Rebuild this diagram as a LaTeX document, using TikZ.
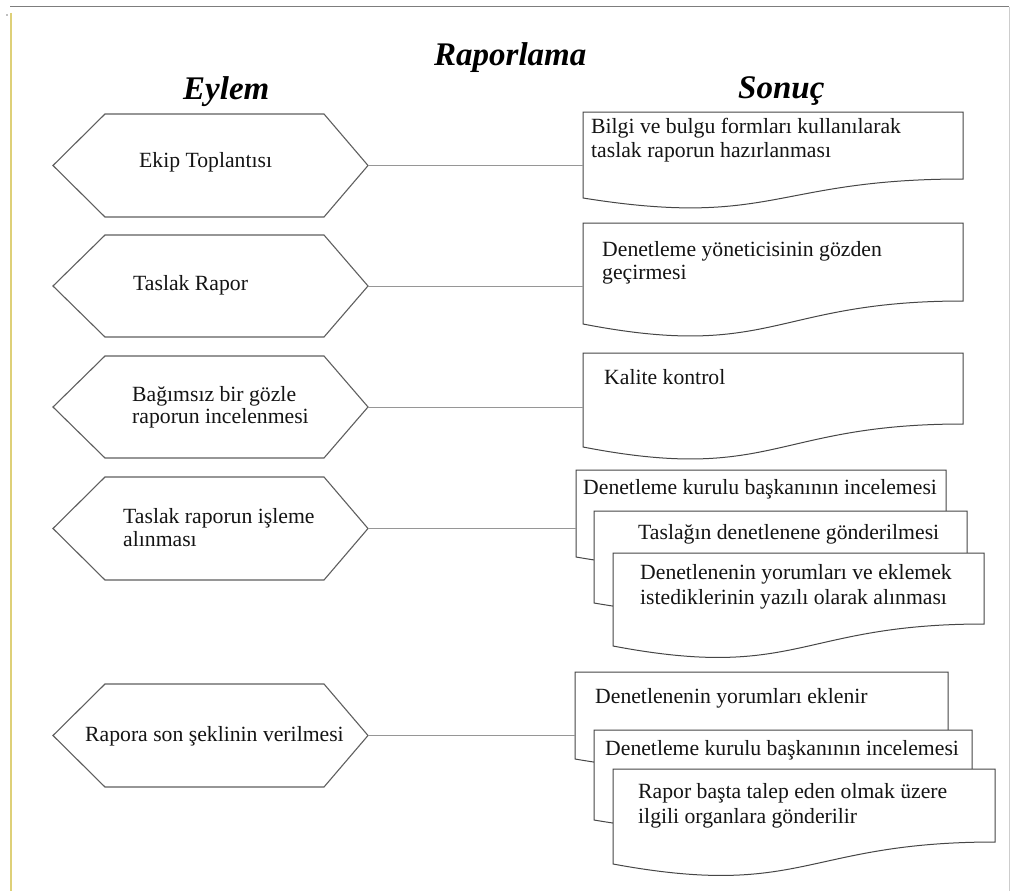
\documentclass[tikz,border=0pt]{standalone}
\usepackage{fontspec}
\setmainfont{Liberation Serif}
\definecolor{pagegold}{RGB}{222,208,120}
\definecolor{frametop}{RGB}{125,125,125}
\definecolor{frameright}{RGB}{205,205,205}
\definecolor{outline}{RGB}{70,70,70}
\definecolor{hexedge}{RGB}{95,95,95}
\definecolor{linkline}{RGB}{150,150,150}

% hexagonal action box: name, top, bottom (tips at x=53 and x=368)
\newcommand\actionhex[3]{%
  \draw[hexline] (53,{(#2+#3)/2}) -- (105,#2) -- (324,#2) -- (368,{(#2+#3)/2})
        -- (324,#3) -- (105,#3) -- cycle;
  \coordinate (#1) at (368,{(#2+#3)/2});
}
% document box with wavy bottom: name, left, top, right, right-bottom, left-bottom
\newcommand\resultdoc[6]{%
  \draw[docline] (#2,#3) -- (#4,#3) -- (#4,#5)
        .. controls ({(#2+#4)/2},#5) and ({(#2+#4)/2},{#6+1.6*(#6-#5)}) .. (#2,#6) -- cycle;
  \coordinate (#1) at (#2,#3);
}

\begin{document}
\begin{tikzpicture}[x=1pt,y=-1pt,
  hexline/.style={draw=hexedge, line width=1.1pt, fill=white},
  docline/.style={draw=outline, line width=1pt, fill=white},
  conn/.style={draw=linkline, line width=0.9pt},
  label/.style={anchor=base west, inner sep=0pt, text=black!92,
                font=\fontsize{21.7}{26}\selectfont},
  heading/.style={anchor=base west, inner sep=0pt,
                font=\fontsize{33}{38}\selectfont\bfseries\itshape},
]
\useasboundingbox (0,0) rectangle (1019,891);
\fill[white] (0,0) rectangle (1019,891);

% page frame
\draw[frametop, line width=1.5pt] (10,6.5) -- (1009,6.5);
\draw[pagegold, line width=1.2pt] (11,13) -- (11,891);
\draw[frameright, line width=1pt] (1009,7) -- (1009,891);
\fill[black!50] (7,15) circle (0.8);

% headings
\node[heading] (title) at (434,65) {Raporlama};
\node[heading] (hleft) at (183,99) {Eylem};
\node[heading] (hright) at (738,98) {Sonuç};

% actions
\actionhex{h1}{114}{217}
\actionhex{h2}{235}{337}
\actionhex{h3}{356}{458}
\actionhex{h4}{477}{580}
\actionhex{h5}{684}{787}

\node[label] (a1) at (139,167) {Ekip Toplantısı};
\node[label] (a2) at (133,290) {Taslak Rapor};
\node[label] (a3a) at (132,401) {Bağımsız bir gözle};
\node[label] (a3b) at (132,423) {raporun incelenmesi};
\node[label] (a4a) at (123,523) {Taslak raporun işleme};
\node[label] (a4b) at (123,546) {alınması};
\node[label] (a5) at (85,741) {Rapora son şeklinin verilmesi};

% results
\resultdoc{d1}{583}{112}{963}{179}{198}
\resultdoc{d2}{583}{223}{963}{301}{324}
\resultdoc{d3}{583}{353}{963}{424}{447}
\resultdoc{d4a}{576}{470}{946}{537}{557}
\resultdoc{d4b}{594}{511}{967}{583}{603}
\resultdoc{d4c}{613}{553}{984}{624}{646}
\resultdoc{d5a}{575}{672}{948}{739}{759}
\resultdoc{d5b}{594}{730}{972}{800}{820}
\resultdoc{d5c}{613}{769}{995}{842}{864}

% connectors
\draw[conn] (h1) -- (h1 -| d1);
\draw[conn] (h2) -- (h2 -| d2);
\draw[conn] (h3) -- (h3 -| d3);
\draw[conn] (h4) -- (h4 -| d4a);
\draw[conn] (h5) -- (h5 -| d5a);

\node[label] (r1a) at (591,133) {Bilgi ve bulgu formları kullanılarak};
\node[label] (r1b) at (591,157) {taslak raporun hazırlanması};
\node[label] (r2a) at (602,256) {Denetleme yöneticisinin gözden};
\node[label] (r2b) at (602,279) {geçirmesi};
\node[label] (r3) at (604,384) {Kalite kontrol};
\node[label] (r4a) at (583,494) {Denetleme kurulu başkanının incelemesi};
\node[label] (r4b) at (638,539) {Taslağın denetlenene gönderilmesi};
\node[label] (r4c1) at (640,579) {Denetlenenin yorumları ve eklemek};
\node[label] (r4c2) at (640,604) {istediklerinin yazılı olarak alınması};
\node[label] (r5a) at (595,703) {Denetlenenin yorumları eklenir};
\node[label] (r5b) at (605,755) {Denetleme kurulu başkanının incelemesi};
\node[label] (r5c1) at (638,798) {Rapor başta talep eden olmak üzere};
\node[label] (r5c2) at (638,823) {ilgili organlara gönderilir};
\end{tikzpicture}
\end{document}
